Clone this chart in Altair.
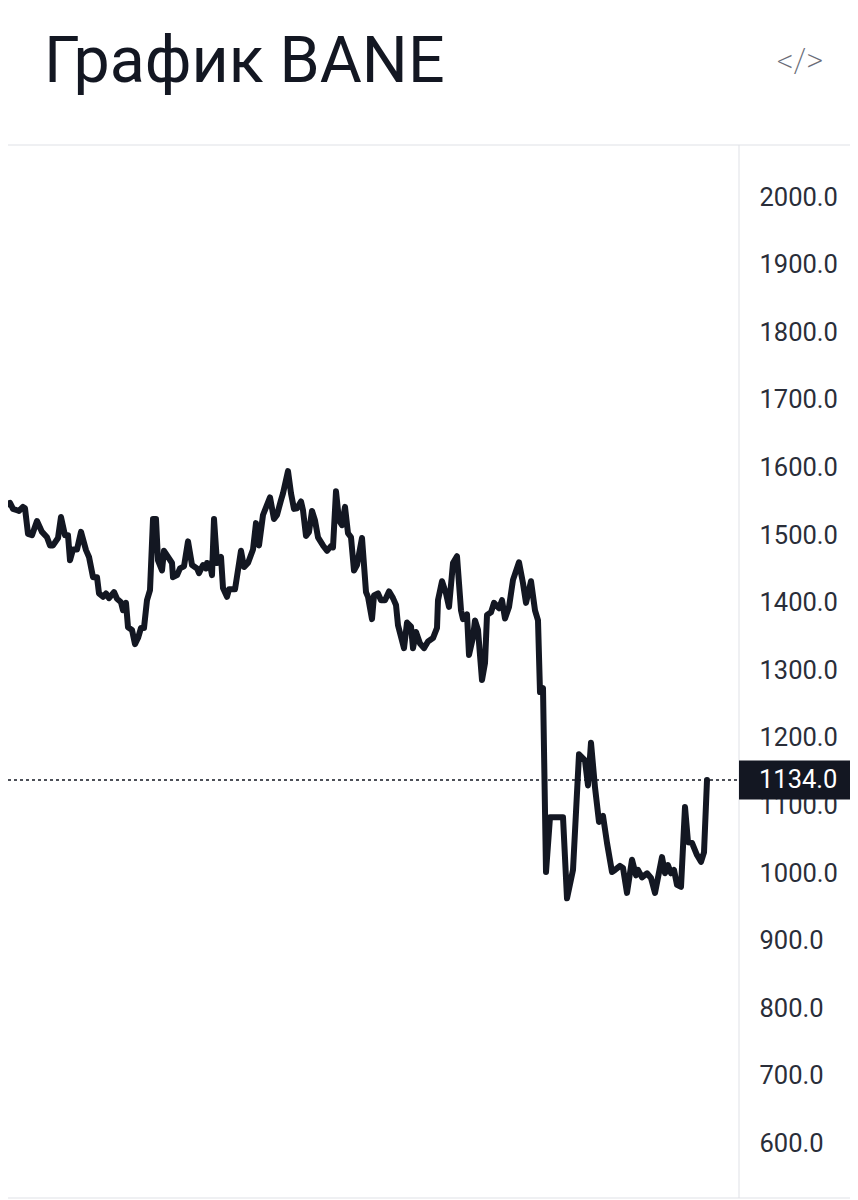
import altair as alt
import pandas as pd

sessions = [3,7,10,13,17,19,23,25,28,32,37,42,47,50,53,58,61,65,68,70,73,77,81,86,89,93,97,99,103,106,109,114,117,121,123,126,128,132,135,138,141,144,147,150,153,156,158,162,164,168,172,173,177,180,184,188,192,197,199,203,206,207,210,212,214,217,221,223,227,229,235,241,244,248,253,256,259,263,270,274,277,281,283,288,291,294,297,301,303,306,309,312,315,318,323,327,331,333,336,339,342,345,348,351,354,357,362,366,368,372,374,378,381,385,389,393,396,398,404,407,411,413,416,420,424,428,433,437,438,442,446,449,453,457,461,463,467,469,473,475,478,482,485,487,491,494,499,502,505,509,513,519,523,526,531,535,538,540,543,546,550,563,567,573,579,585,588,591,595,599,603,607,612,615,620,623,627,632,636,638,642,647,651,655,662,665,668,671,674,677,681,685,688,692,697,701,704,707]
prices = [1544,1541,1544,1535,1533,1532,1538,1536,1498,1496,1517,1501,1493,1481,1481,1492,1523,1496,1496,1459,1475,1475,1501,1474,1464,1434,1434,1410,1405,1410,1403,1412,1402,1397,1385,1396,1360,1356,1335,1344,1359,1359,1400,1415,1520,1520,1459,1444,1473,1464,1455,1434,1437,1447,1450,1487,1452,1447,1440,1452,1447,1455,1453,1437,1520,1455,1464,1418,1405,1416,1416,1473,1449,1455,1475,1514,1481,1526,1552,1520,1526,1548,1558,1591,1558,1535,1536,1546,1533,1495,1501,1532,1518,1493,1481,1473,1480,1478,1561,1518,1511,1538,1499,1493,1444,1452,1492,1412,1405,1372,1407,1410,1400,1400,1413,1403,1393,1363,1329,1367,1361,1329,1353,1336,1329,1339,1344,1359,1400,1428,1410,1390,1455,1465,1385,1372,1379,1319,1345,1370,1356,1282,1307,1378,1382,1396,1388,1400,1373,1390,1430,1456,1425,1396,1428,1385,1370,1264,1270,998,1079,1079,959,1001,1172,1163,1126,1189,1123,1072,1081,1041,998,1001,1007,1004,967,1016,993,1001,990,996,989,967,1020,996,1008,996,1001,979,976,1094,1042,1041,1023,1013,1027,1134]
tick_values = [600,700,800,900,1000,1100,1200,1300,1400,1500,1600,1700,1800,1900,2000]
last_price = 1134
title_text = "График BANE"
icon_text = "</>"
INK = "#131722"
LABEL = "#2a2e39"
BORDER = "#dfe1e6"
FONT = "Roboto"

df = pd.DataFrame({"session": sessions, "price": prices})
x_scale = alt.Scale(domain=[8, 739], nice=False, zero=False)
y_scale = alt.Scale(domain=[515.7, 2073.3], nice=False, zero=False)
y_axis = alt.Axis(
    orient="right", values=tick_values, format=".1f", title=None, grid=False,
    ticks=False, domain=False, labelFont=FONT, labelFontSize=25.5,
    labelColor=LABEL, labelPadding=20, labelOffset=2.5, labelOverlap=False,
    labelAlign="left", labelBaseline="middle",
)

line = alt.Chart(df).mark_line(
    color=INK, strokeWidth=6, strokeJoin="round", strokeCap="round", clip=False
).encode(
    x=alt.X("session:Q", scale=x_scale, axis=None),
    y=alt.Y("price:Q", scale=y_scale, axis=y_axis),
)

one = alt.Chart(pd.DataFrame({"p": [last_price]}))
dash = one.mark_rule(color=INK, strokeWidth=1.5, strokeDash=[3, 3]).encode(
    x=alt.value(0), x2=alt.value(731), y=alt.Y("p:Q", scale=y_scale, axis=y_axis))
box = one.transform_calculate(a="datum.p+29", b="datum.p-29").mark_rect(color=INK).encode(
    x=alt.value(731), x2=alt.value(842),
    y=alt.Y("a:Q", scale=y_scale, axis=y_axis), y2="b:Q")
box_label = one.transform_calculate(t="format(datum.p, '.1f')").mark_text(
    color="white", font=FONT, fontSize=25.5, align="left", baseline="middle"
).encode(x=alt.value(751), y=alt.Y("p:Q", scale=y_scale, axis=y_axis), text="t:N")

frame_top = one.mark_rule(color=BORDER).encode(x=alt.value(0), x2=alt.value(842), y=alt.value(0))
frame_bottom = one.mark_rule(color=BORDER).encode(x=alt.value(0), x2=alt.value(842), y=alt.value(1053))
frame_right = one.mark_rule(color=BORDER).encode(x=alt.value(731), y=alt.value(0), y2=alt.value(1053))

title = one.transform_calculate(t=f"'{title_text}'").mark_text(
    color=INK, font=FONT, fontSize=64.5, align="left", baseline="alphabetic"
).encode(x=alt.value(36), y=alt.value(-63), text="t:N")
icon = one.transform_calculate(t=f"'{icon_text}'").mark_text(
    color="#6a6d78", font=FONT, fontSize=33, fontWeight=200, align="center", baseline="middle"
).encode(x=alt.value(792), y=alt.value(-83), text="t:N")

chart = alt.layer(frame_top, frame_bottom, frame_right, line, dash, box, box_label, title, icon).properties(
    width=731, height=1053,
    padding={"left": 0, "top": 137, "right": 111, "bottom": 2},
    autosize=alt.AutoSizeParams(type="none"),
).configure_view(stroke=None)

chart.save("out.html", embed_options={"renderer": "svg", "actions": False})
